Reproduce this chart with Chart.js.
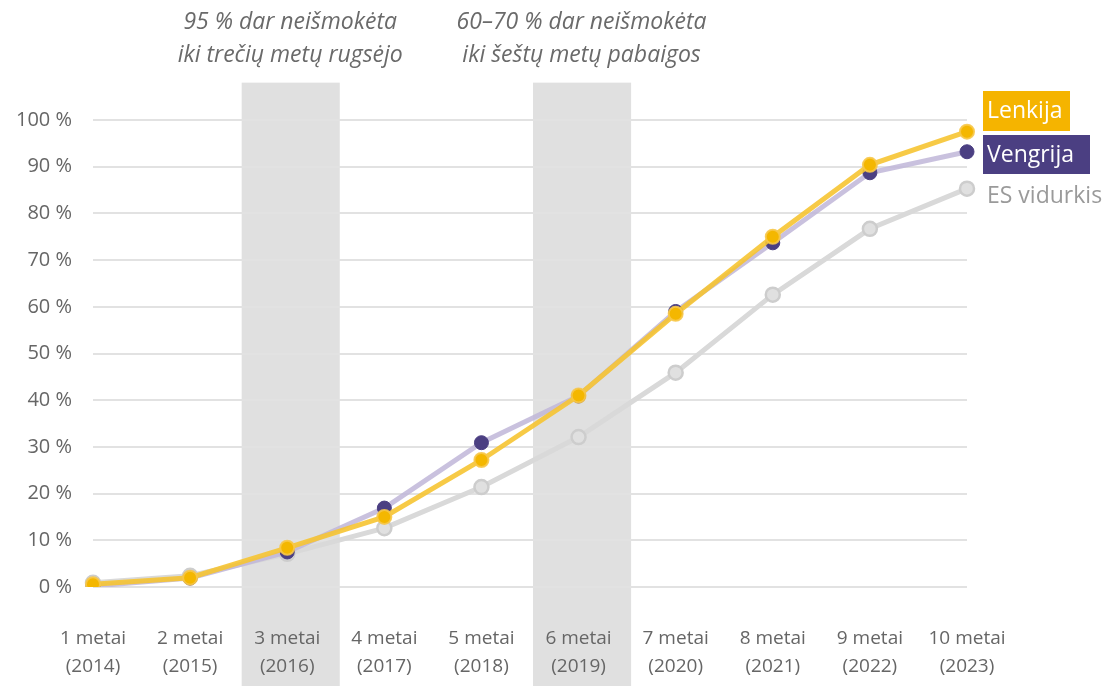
<!DOCTYPE html>
<html>
<head>
<meta charset="utf-8">
<script src="https://cdn.jsdelivr.net/npm/chart.js@4"></script>
<style>
  html, body { margin: 0; padding: 0; background: #fff; }
  #wrap { width: 1102px; height: 686px; position: relative; }
</style>
</head>
<body>
<div id="wrap"><canvas id="chart"></canvas></div>
<script>
// Data
const years = ['1 metai', '2 metai', '3 metai', '4 metai', '5 metai', '6 metai', '7 metai', '8 metai', '9 metai', '10 metai'];
const calYears = ['(2014)', '(2015)', '(2016)', '(2017)', '(2018)', '(2019)', '(2020)', '(2021)', '(2022)', '(2023)'];
const lenkija = [0.6, 2.0, 8.4, 15.0, 27.2, 41.0, 58.5, 75.0, 90.4, 97.5];
const vengrija = [0.2, 1.9, 7.5, 16.9, 30.9, 40.9, 59.0, 73.7, 88.7, 93.2];
const esVidurkis = [0.9, 2.4, 7.1, 12.6, 21.4, 32.1, 45.9, 62.6, 76.7, 85.3];
const yTicks = [0, 10, 20, 30, 40, 50, 60, 70, 80, 90, 100];
const shadedIdx = [2, 5];
const notes = [
    ['95 % dar neišmokėta', 'iki trečių metų rugsėjo'],
    ['60–70 % dar neišmokėta', 'iki šeštų metų pabaigos']
];

const FONT = '"Open Sans", "Noto Sans", sans-serif';

// shaded columns + notes above them
const bandsPlugin = {
    id: 'bands',
    beforeDraw(chart) {
        const { ctx, scales: { x, y } } = chart;
        const step = x.getPixelForValue(1) - x.getPixelForValue(0);
        const top = y.getPixelForValue(108);
        ctx.save();
        ctx.fillStyle = '#e0e0e0';
        shadedIdx.forEach(i => {
            const cx = x.getPixelForValue(i) + 3;
            ctx.fillRect(cx - step / 2, top, step + 1, chart.height - top);
        });
        ctx.fillStyle = '#6a6a6a';
        ctx.font = 'italic 23px ' + FONT;
        ctx.textAlign = 'center';
        ctx.textBaseline = 'middle';
        shadedIdx.forEach((i, k) => {
            const cx = x.getPixelForValue(i) + 3;
            ctx.fillText(notes[k][0], cx, 22);
            ctx.fillText(notes[k][1], cx, 55);
        });
        ctx.restore();
    }
};

// labels at the right end
const endLabels = {
    id: 'endLabels',
    afterDraw(chart) {
        const ctx = chart.ctx;
        ctx.save();
        ctx.font = '23px ' + FONT;
        ctx.textBaseline = 'middle';
        ctx.fillStyle = '#f5b400';
        ctx.fillRect(983, 91, 87, 40);
        ctx.fillStyle = '#ffffff';
        ctx.fillText('Lenkija', 987, 111);
        ctx.fillStyle = '#4b3f82';
        ctx.fillRect(983, 135, 107, 39);
        ctx.fillStyle = '#ffffff';
        ctx.fillText('Vengrija', 987, 155);
        ctx.fillStyle = '#9a9a9a';
        ctx.fillText('ES vidurkis', 987, 196);
        ctx.restore();
    }
};

new Chart(document.getElementById('chart'), {
    type: 'line',
    data: {
        labels: years.map((y, i) => [y, calYears[i]]),
        datasets: [{
            label: 'Lenkija',
            data: lenkija,
            borderColor: 'rgba(246, 196, 50, 0.9)',
            borderWidth: 5,
            pointBackgroundColor: '#f4b700',
            pointBorderColor: 'rgba(247, 200, 74, 0.9)',
            pointBorderWidth: 2,
            pointRadius: 7,
            order: 0
        }, {
            label: 'Vengrija',
            data: vengrija,
            borderColor: 'rgba(192, 182, 216, 0.85)',
            borderWidth: 5,
            pointBackgroundColor: '#4b3f82',
            pointBorderColor: '#4b3f82',
            pointBorderWidth: 1,
            pointRadius: 7,
            order: 1
        }, {
            label: 'ES vidurkis',
            data: esVidurkis,
            borderColor: '#d9d9d9',
            borderWidth: 5,
            pointBackgroundColor: '#e0e0e0',
            pointBorderColor: '#cdcdcd',
            pointBorderWidth: 2.5,
            pointRadius: 7,
            order: 2
        }]
    },
    options: {
        responsive: true,
        maintainAspectRatio: false,
        animation: false,
        layout: {
            padding: { top: 120, right: 135, left: 0, bottom: 0 }
        },
        scales: {
            x: {
                grid: { display: false },
                border: { display: false },
                ticks: {
                    color: '#666666',
                    font: { family: FONT, size: 19, lineHeight: 1.45 },
                    padding: 30,
                    maxRotation: 0,
                    autoSkip: false
                },
                afterFit: s => { s.height = 99; }
            },
            y: {
                min: 0,
                max: 100,
                afterBuildTicks: s => { s.ticks = yTicks.map(v => ({ value: v })); },
                grid: { color: '#e2e2e2', lineWidth: 2, drawTicks: false },
                border: { display: false },
                ticks: {
                    color: '#666666',
                    font: { family: FONT, size: 20 },
                    padding: 21,
                    callback: v => v + ' %'
                },
                afterFit: s => { s.width = 93; }
            }
        },
        plugins: {
            legend: { display: false },
            tooltip: { enabled: false }
        }
    },
    plugins: [bandsPlugin, endLabels]
});
</script>
</body>
</html>
